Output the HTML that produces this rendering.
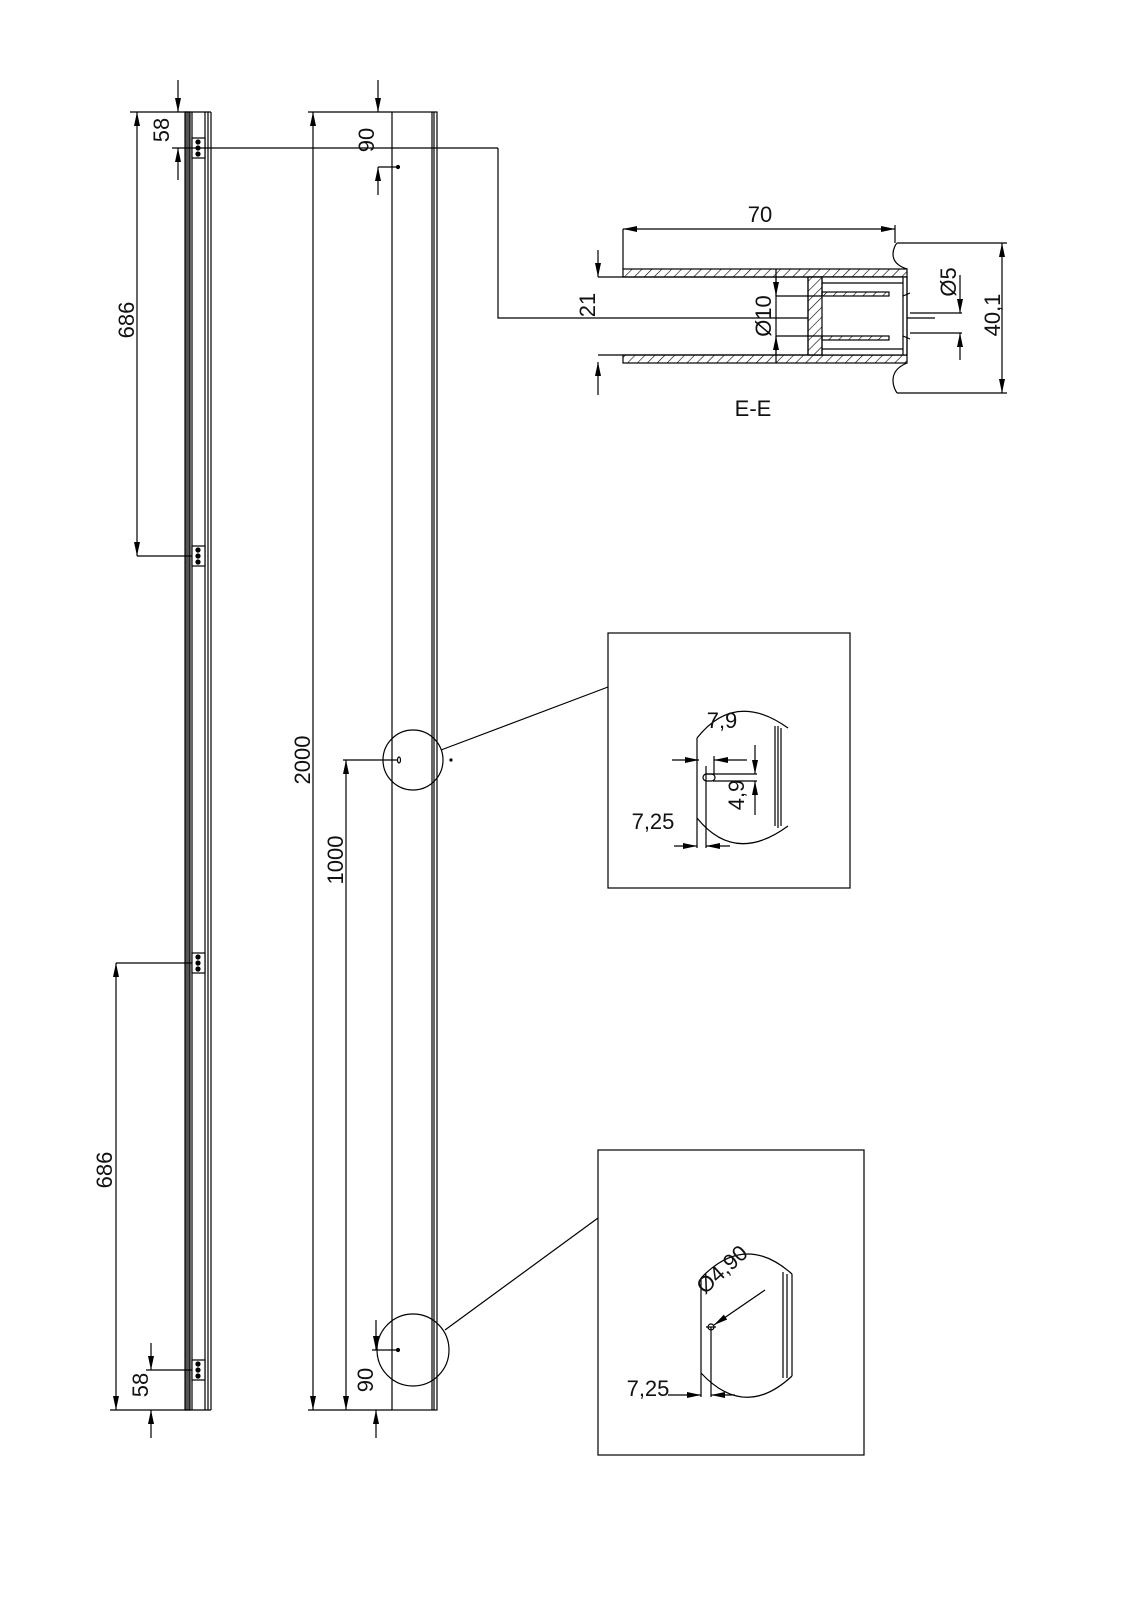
<!DOCTYPE html>
<html><head><meta charset="utf-8"><style>
html,body{margin:0;padding:0;background:#fff}
svg text{font-family:"Liberation Sans Narrow","Liberation Sans",sans-serif;font-stretch:condensed;fill:#111}
</style></head><body>
<svg width="1131" height="1600" viewBox="0 0 1131 1600" xmlns="http://www.w3.org/2000/svg">
<defs>
<marker id="a" viewBox="0 0 14 6" refX="14" refY="3" markerWidth="14" markerHeight="6" orient="auto-start-reverse" markerUnits="userSpaceOnUse"><path d="M0,0L14,3L0,6z" fill="#000"/></marker>
<pattern id="h" width="7" height="7" patternUnits="userSpaceOnUse" patternTransform="rotate(45)"><line x1="0" y1="0" x2="0" y2="7" stroke="#000" stroke-width="1.2"/></pattern>
</defs>
<g stroke="#000" stroke-width="1.2" fill="none">
<!-- LEFT BAR -->
<rect x="185" y="112" width="5" height="1298" fill="#555"/>
<line x1="192" y1="112" x2="192" y2="1410"/>
<line x1="205" y1="112" x2="205" y2="1410"/>
<line x1="208" y1="112" x2="208" y2="1410"/>
<line x1="211" y1="112" x2="211" y2="1410"/>
<line x1="185" y1="112" x2="211" y2="112"/>
<line x1="185" y1="1410" x2="211" y2="1410"/>
<g fill="#fff">
<rect x="192" y="138" width="13" height="20"/><rect x="192" y="546" width="13" height="20"/><rect x="192" y="953" width="13" height="20"/><rect x="192" y="1360" width="13" height="20"/>
</g>
<g fill="#000">
<circle cx="198" cy="142" r="2"/><circle cx="198" cy="148" r="2"/><circle cx="198" cy="154" r="2"/>
<circle cx="198" cy="550" r="2"/><circle cx="198" cy="556" r="2"/><circle cx="198" cy="562" r="2"/>
<circle cx="198" cy="957" r="2"/><circle cx="198" cy="963" r="2"/><circle cx="198" cy="969" r="2"/>
<circle cx="198" cy="1364" r="2"/><circle cx="198" cy="1370" r="2"/><circle cx="198" cy="1376" r="2"/>
</g>
<line x1="130" y1="112" x2="186" y2="112"/>
<line x1="178" y1="80" x2="178" y2="112" marker-end="url(#a)"/>
<line x1="178" y1="148" x2="178" y2="180" marker-start="url(#a)"/>
<line x1="172" y1="148" x2="498" y2="148"/>
<line x1="137" y1="112" x2="137" y2="556" marker-start="url(#a)" marker-end="url(#a)"/>
<line x1="137" y1="556" x2="192" y2="556"/>
<line x1="116" y1="963" x2="192" y2="963"/>
<line x1="116" y1="963" x2="116" y2="1410" marker-start="url(#a)" marker-end="url(#a)"/>
<line x1="110" y1="1410" x2="186" y2="1410"/>
<line x1="146" y1="1370" x2="192" y2="1370"/>
<line x1="151" y1="1343" x2="151" y2="1370" marker-end="url(#a)"/>
<line x1="151" y1="1410" x2="151" y2="1438" marker-start="url(#a)"/>
<!-- RIGHT BAR -->
<rect x="392" y="112" width="45" height="1298"/>
<line x1="432" y1="112" x2="432" y2="1410"/>
<line x1="434" y1="112" x2="434" y2="1410"/>
<line x1="308" y1="112" x2="392" y2="112"/>
<line x1="313" y1="112" x2="313" y2="1410" marker-start="url(#a)" marker-end="url(#a)"/>
<line x1="308" y1="1410" x2="392" y2="1410"/>
<line x1="378" y1="80" x2="378" y2="112" marker-end="url(#a)"/>
<line x1="378" y1="167" x2="378" y2="195" marker-start="url(#a)"/>
<line x1="378" y1="167" x2="398" y2="167"/>
<circle cx="398" cy="167" r="1.5" fill="#000"/>
<line x1="343" y1="760" x2="398" y2="760"/>
<line x1="346" y1="760" x2="346" y2="1410" marker-start="url(#a)" marker-end="url(#a)"/>
<circle cx="413" cy="760" r="30"/>
<ellipse cx="399" cy="760" rx="1.5" ry="3"/>
<circle cx="451" cy="760" r="1" fill="#000"/>
<line x1="441" y1="750" x2="608" y2="687"/>
<circle cx="413" cy="1350" r="36"/>
<line x1="372" y1="1350" x2="398" y2="1350"/>
<circle cx="398" cy="1350" r="1.5" fill="#000"/>
<line x1="376" y1="1320" x2="376" y2="1350" marker-end="url(#a)"/>
<line x1="376" y1="1410" x2="376" y2="1438" marker-start="url(#a)"/>
<line x1="445" y1="1330" x2="598" y2="1218"/>
<polyline points="498,148 498,318 935,318"/>
<!-- SECTION E-E -->
<rect x="623" y="269" width="284" height="8" fill="url(#h)"/>
<rect x="623" y="355" width="284" height="8" fill="url(#h)"/>
<line x1="598" y1="277" x2="907" y2="277"/>
<line x1="598" y1="355" x2="907" y2="355"/>
<path d="M907,269 C885,262 895,245 897,243"/>
<path d="M907,363 C885,372 895,390 897,393"/>
<rect x="808" y="277" width="99" height="78" fill="#fff"/>
<rect x="808" y="277" width="14" height="78" fill="url(#h)"/>
<rect x="822" y="292" width="67" height="4" fill="url(#h)"/>
<rect x="822" y="336" width="67" height="4" fill="url(#h)"/>
<line x1="822" y1="277" x2="822" y2="296"/><line x1="822" y1="336" x2="822" y2="355"/>
<line x1="822" y1="283" x2="903" y2="283"/><line x1="822" y1="349" x2="903" y2="349"/>
<line x1="903" y1="277" x2="903" y2="355"/>
<line x1="907" y1="277" x2="907" y2="355"/>
<line x1="903" y1="296" x2="910" y2="293"/><line x1="903" y1="336" x2="910" y2="339"/>
<line x1="776" y1="296" x2="822" y2="296"/><line x1="776" y1="336" x2="822" y2="336"/>
<line x1="623" y1="229" x2="623" y2="269"/>
<line x1="623" y1="229" x2="895" y2="229" marker-start="url(#a)" marker-end="url(#a)"/>
<line x1="895" y1="225" x2="895" y2="243"/>
<line x1="598" y1="250" x2="598" y2="277" marker-end="url(#a)"/>
<line x1="598" y1="362" x2="598" y2="395" marker-start="url(#a)"/>
<line x1="776" y1="277" x2="776" y2="296" marker-end="url(#a)"/>
<line x1="776" y1="336" x2="776" y2="355" marker-start="url(#a)"/>
<line x1="776" y1="269" x2="776" y2="363"/>
<line x1="897" y1="243" x2="1007" y2="243"/>
<line x1="897" y1="393" x2="1007" y2="393"/>
<line x1="1002" y1="243" x2="1002" y2="393" marker-start="url(#a)" marker-end="url(#a)"/>
<line x1="910" y1="313" x2="962" y2="313"/><line x1="910" y1="333" x2="962" y2="333"/>
<line x1="960" y1="275" x2="960" y2="313" marker-end="url(#a)"/>
<line x1="960" y1="333" x2="960" y2="360" marker-start="url(#a)"/>
<!-- DETAIL 1 -->
<rect x="608" y="633" width="242" height="255"/>
<path d="M697,738 Q735,690 788,728"/>
<path d="M697,818 Q735,865 788,826"/>
<line x1="697" y1="738" x2="697" y2="818"/>
<line x1="775" y1="726" x2="775" y2="826"/><line x1="778" y1="726" x2="778" y2="828"/><line x1="781" y1="728" x2="781" y2="826"/>
<rect x="703" y="774" width="12" height="7" rx="3.5"/>
<line x1="706" y1="766" x2="706" y2="848"/>
<line x1="706" y1="774" x2="757" y2="774"/>
<line x1="713" y1="781" x2="757" y2="781"/>
<line x1="672" y1="760" x2="699" y2="760" marker-end="url(#a)"/>
<line x1="747" y1="760" x2="714" y2="760" marker-end="url(#a)"/>
<line x1="714" y1="756" x2="714" y2="774"/>
<line x1="755" y1="745" x2="755" y2="774" marker-end="url(#a)"/>
<line x1="755" y1="781" x2="755" y2="815" marker-start="url(#a)"/>
<line x1="697" y1="818" x2="697" y2="848"/>
<line x1="674" y1="846" x2="697" y2="846" marker-end="url(#a)"/>
<line x1="730" y1="846" x2="706" y2="846" marker-end="url(#a)"/>
<!-- DETAIL 2 -->
<rect x="598" y="1150" width="266" height="305"/>
<path d="M701,1278 Q745,1232 792,1274"/>
<path d="M701,1373 Q745,1420 792,1376"/>
<line x1="701" y1="1278" x2="701" y2="1397"/>
<line x1="783" y1="1272" x2="783" y2="1378"/><line x1="787" y1="1274" x2="787" y2="1378"/><line x1="792" y1="1274" x2="792" y2="1376"/>
<circle cx="711" cy="1327" r="3"/>
<line x1="706" y1="1327" x2="716" y2="1327"/>
<line x1="711" y1="1327" x2="711" y2="1397"/>
<line x1="765" y1="1290" x2="714" y2="1325" marker-end="url(#a)"/>
<line x1="668" y1="1395" x2="701" y2="1395" marker-end="url(#a)"/>
<line x1="735" y1="1395" x2="711" y2="1395" marker-end="url(#a)"/>
</g>
<g font-size="22">
<text transform="translate(169,130) rotate(-90)" text-anchor="middle">58</text>
<text transform="translate(134,320) rotate(-90)" text-anchor="middle">686</text>
<text transform="translate(112,1170) rotate(-90)" text-anchor="middle">686</text>
<text transform="translate(148,1385) rotate(-90)" text-anchor="middle">58</text>
<text transform="translate(310,760) rotate(-90)" text-anchor="middle">2000</text>
<text transform="translate(374,140) rotate(-90)" text-anchor="middle">90</text>
<text transform="translate(343,860) rotate(-90)" text-anchor="middle">1000</text>
<text transform="translate(373,1380) rotate(-90)" text-anchor="middle">90</text>
<text x="760" y="222" text-anchor="middle">70</text>
<text transform="translate(595,305) rotate(-90)" text-anchor="middle">21</text>
<text transform="translate(771,316) rotate(-90)" text-anchor="middle">Ø10</text>
<text transform="translate(956,282) rotate(-90)" text-anchor="middle">Ø5</text>
<text transform="translate(1000,315) rotate(-90)" text-anchor="middle">40,1</text>
<text x="753" y="416" text-anchor="middle">E-E</text>
<text x="722" y="728" text-anchor="middle">7,9</text>
<text transform="translate(744,795) rotate(-90)" text-anchor="middle">4,9</text>
<text x="653" y="829" text-anchor="middle">7,25</text>
<text transform="translate(727,1275) rotate(-42)" text-anchor="middle">Ø4,90</text>
<text x="648" y="1396" text-anchor="middle">7,25</text>
</g>
</svg>
</body></html>
